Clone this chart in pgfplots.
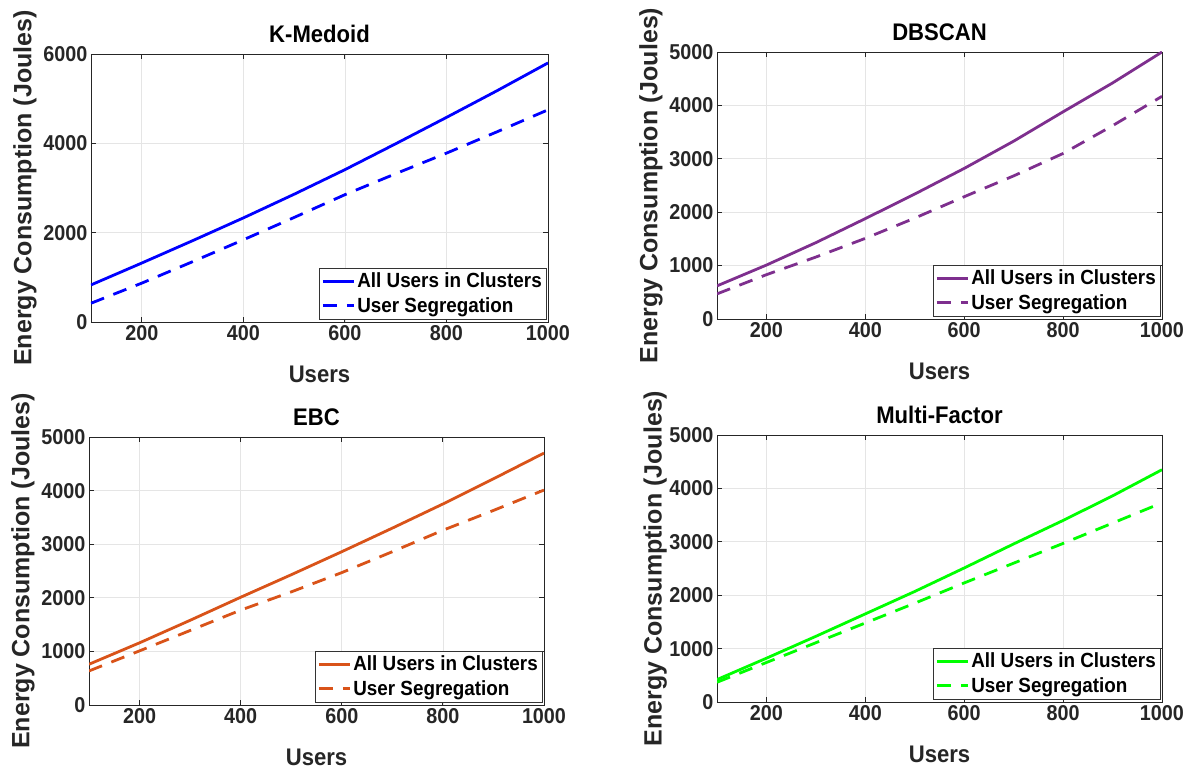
\documentclass[border=0pt]{standalone}
\usepackage{fontspec}
\setmainfont{Liberation Sans}[FakeStretch=0.92]
\newfontfamily\ylfont{Liberation Sans}
\usepackage{pgfplots}
\pgfplotsset{compat=1.18}
\definecolor{mpurple}{rgb}{0.494,0.184,0.556}
\definecolor{morange}{rgb}{0.85,0.325,0.098}
\definecolor{mgreen}{rgb}{0,1,0}
\definecolor{axgray}{rgb}{0.15,0.15,0.15}
\pgfplotsset{
 myax/.style={
  scale only axis, anchor=south west,
  xmin=100, xmax=1000, xtick={200,400,...,1000},
  ymin=0,
  grid=major, major grid style={black!10, line width=0.6pt},
  axis line style={axgray, line width=0.8pt},
  tick style={axgray, line width=0.8pt},
  tick align=inside, tick pos=both, major tick length=5pt,
  ticklabel style={font=\fontsize{21.5}{24}\selectfont\bfseries, text=axgray},
  /pgf/number format/assume math mode=true,
  /pgf/number format/1000 sep={},
  xlabel={Users},
  ylabel={Energy Consumption (Joules)},
  xlabel style={font=\fontsize{24}{27}\selectfont\bfseries, text=axgray, at={(axis description cs:0.5,0)}, anchor=center, yshift=-52pt},
  title style={font=\fontsize{24}{27}\selectfont\bfseries, text=black, at={(axis description cs:0.5,1)}, anchor=center, yshift=14pt},
  legend style={at={(axis description cs:1,0)}, anchor=south east, xshift=-2pt, yshift=3pt,
    draw=black!80, fill=white,
    font=\fontsize{20.5}{23}\selectfont\bfseries, text=black,
    inner xsep=2pt, inner ysep=1pt, row sep=0pt,
    nodes={inner xsep=2pt, inner ysep=4pt}},
  legend cell align=left,
  legend image code/.code={\draw[##1] (0pt,0pt) -- (31pt,0pt);},
  legend image post style={line width=2.8pt},
  every axis plot/.append style={line width=2.8pt},
 },
 ylab/.style={ylabel style={font=\ylfont\fontsize{25}{28}\selectfont\bfseries, text=axgray, at={(axis description cs:#1,0.5)}, anchor=center, rotate=0}},
 dsh/.style={dash pattern=on 14pt off 10pt},
}
\begin{document}
\begin{tikzpicture}
\useasboundingbox (0,0) rectangle (1184pt,766pt);
% K-Medoid
\begin{axis}[myax, ylab=-0.1444, at={(91pt,444pt)}, width=457pt, height=268pt,
  ymax=6000, ytick={0,2000,4000,6000}, title={K-Medoid}]
\addplot[blue] coordinates {(100,830)(200,1320)(300,1820)(400,2330)(500,2860)(600,3410)(700,3990)(800,4580)(900,5180)(1000,5800)};
\addlegendentry{All Users in Clusters}
\addplot[blue, dsh] coordinates {(100,420)(200,870)(300,1350)(400,1840)(500,2340)(600,2850)(700,3320)(800,3780)(900,4260)(1000,4750)};
\addlegendentry{User Segregation}
\end{axis}
% DBSCAN
\begin{axis}[myax, ylab=-0.1483, at={(717pt,447pt)}, width=445pt, height=267pt,
  ymax=5000, ytick={0,1000,...,5000}, title={DBSCAN}]
\addplot[mpurple] coordinates {(100,620)(200,1010)(300,1430)(400,1880)(500,2340)(600,2820)(700,3330)(800,3880)(900,4420)(1000,5000)};
\addlegendentry{All Users in Clusters}
\addplot[mpurple, dsh] coordinates {(100,470)(200,830)(300,1160)(400,1510)(500,1890)(600,2290)(700,2680)(800,3100)(900,3620)(1000,4170)};
\addlegendentry{User Segregation}
\end{axis}
% EBC
\begin{axis}[myax, ylab=-0.145, at={(89pt,61pt)}, width=455pt, height=268pt,
  ymax=5000, ytick={0,1000,...,5000}, title={EBC}]
\addplot[morange] coordinates {(100,760)(200,1160)(300,1580)(400,2010)(500,2430)(600,2860)(700,3300)(800,3750)(900,4220)(1000,4700)};
\addlegendentry{All Users in Clusters}
\addplot[morange, dsh] coordinates {(100,635)(200,1010)(300,1390)(400,1770)(500,2110)(600,2470)(700,2860)(800,3260)(900,3630)(1000,4010)};
\addlegendentry{User Segregation}
\end{axis}
% Multi-Factor
\begin{axis}[myax, ylab=-0.139, at={(717pt,64pt)}, width=445pt, height=267pt,
  ymax=5000, ytick={0,1000,...,5000}, title={Multi-Factor}]
\addplot[mgreen] coordinates {(100,420)(200,820)(300,1230)(400,1650)(500,2070)(600,2510)(700,2960)(800,3400)(900,3860)(1000,4350)};
\addlegendentry{All Users in Clusters}
\addplot[mgreen, dsh] coordinates {(100,370)(200,740)(300,1110)(400,1480)(500,1850)(600,2230)(700,2600)(800,2970)(900,3350)(1000,3730)};
\addlegendentry{User Segregation}
\end{axis}
\end{tikzpicture}
\end{document}
